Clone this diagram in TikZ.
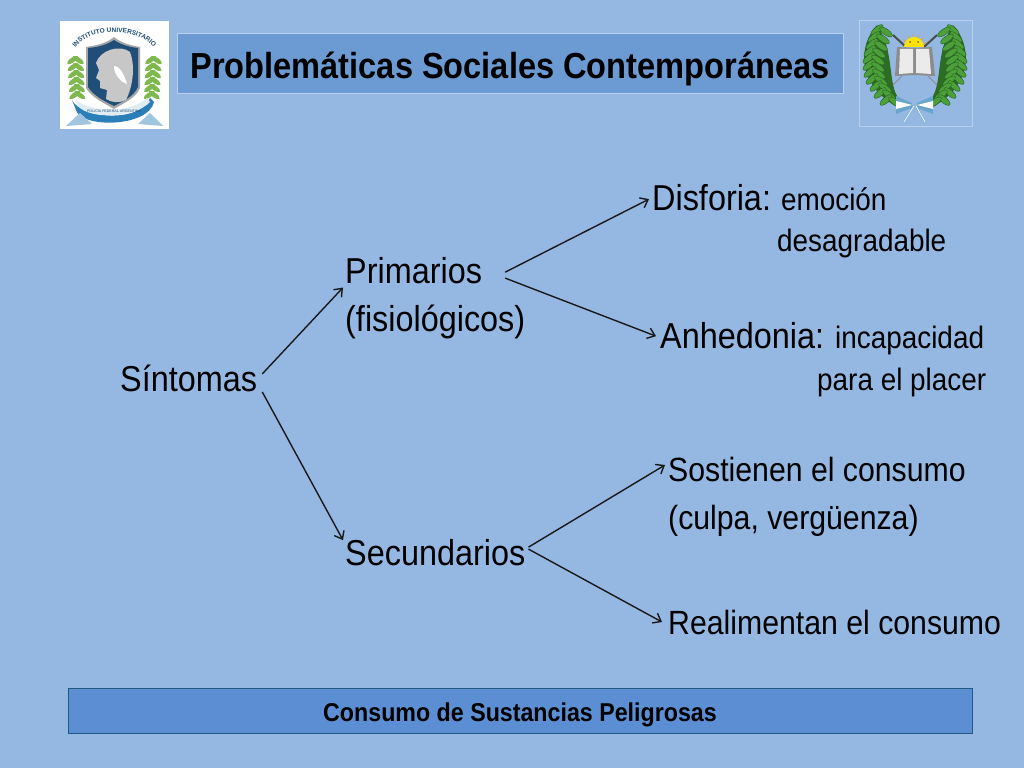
\documentclass[tikz,border=0pt]{standalone}
\usepackage{fontspec}
\setmainfont{Liberation Sans}
\newfontfamily\narrowfont[FakeStretch=0.9]{Liberation Sans}
\usetikzlibrary{arrows.meta,decorations.text}
\definecolor{fondo}{HTML}{95B8E3}
\definecolor{cajaazul}{HTML}{6C9AD2}
\definecolor{pieazul}{HTML}{5B8ED3}
\definecolor{bordeclaro}{HTML}{B9D0EE}
\definecolor{hoja}{HTML}{3F9A35}
\definecolor{hojaclara}{HTML}{8CC152}
\definecolor{escudo}{HTML}{1F4E79}
\definecolor{cinta}{HTML}{2A7FB8}
\tikzset{
  grande/.style={anchor=base west,inner sep=0pt,font=\narrowfont\fontsize{36}{40}\selectfont},
  medio/.style={anchor=base west,inner sep=0pt,font=\narrowfont\fontsize{33.6}{38}\selectfont},
  chico/.style={anchor=base west,inner sep=0pt,font=\narrowfont\fontsize{31}{36}\selectfont},
  rama/.style={draw=black!90,line width=1.4pt,-{Straight Barb[length=7pt,width=11pt,line width=1.4pt]}},
  hojita/.style={fill=hoja!85!hojaclara,draw=hoja!60!black,line width=.4pt}
}
\begin{document}
\begin{tikzpicture}[x=1pt,y=-1pt]
  \useasboundingbox (0,0) rectangle (1024,768);
  \fill[fondo] (0,0) rectangle (1024,768);

  % title and footer
  \node[draw=bordeclaro,fill=cajaazul,line width=1pt,minimum width=666pt,minimum height=59pt,inner sep=0pt] (titulo) at (510,63.5) {};
  \node[inner sep=0pt,font=\narrowfont\fontsize{36.2}{40}\selectfont] at (510,69) {\textbf{Problemáticas Sociales Contemporáneas}};
  \node[draw=cinta!70!black,fill=pieazul,line width=.6pt,minimum width=904pt,minimum height=45pt,inner sep=0pt] (pie) at (520,710.5) {};
  \node[inner sep=0pt,font=\narrowfont\fontsize{25.8}{30}\selectfont] at (520,715) {\textbf{Consumo de Sustancias Peligrosas}};

  % left emblem
  \fill[white] (60,21) rectangle (169,129);
  \foreach \y in {60,67,...,95}{
    \fill[hojaclara!80!hoja] (69+\y*0.06,\y) ellipse [x radius=6.5pt,y radius=2.4pt,rotate=35];
    \fill[hojaclara!80!hoja] (76+\y*0.04,\y) ellipse [x radius=6.5pt,y radius=2.4pt,rotate=-35];
    \fill[hojaclara!80!hoja] (160-\y*0.06,\y) ellipse [x radius=6.5pt,y radius=2.4pt,rotate=-35];
    \fill[hojaclara!80!hoja] (153-\y*0.04,\y) ellipse [x radius=6.5pt,y radius=2.4pt,rotate=35];
  }
  \fill[black!35] (86,47) .. controls (100,45) and (108,42) .. (114,37) .. controls (120,42) and (128,45) .. (140,47) -- (140,88) .. controls (136,98) and (124,103) .. (114,109) .. controls (104,103) and (92,98) .. (86,88) -- cycle;
  \fill[escudo] (88,48) .. controls (100,47) and (108,44) .. (114,40) .. controls (120,44) and (128,47) .. (138,48) -- (138,87) .. controls (134,96) and (124,101) .. (114,106) .. controls (104,101) and (94,96) .. (88,87) -- cycle;
  \fill[black!22] (96,63) .. controls (100,50) and (120,44) .. (130,52) .. controls (136,68) and (132,88) .. (126,100) .. controls (120,103) and (112,103) .. (106,99) -- (107,90) -- (100,88) -- (100,81) -- (96,78) -- (99,70) -- cycle;
  \fill[white] (114,66) .. controls (120,66) and (125,76) .. (127,84) .. controls (120,82) and (114,74) .. (114,66) -- cycle;
  \fill[cinta] (72,100) .. controls (80,118) and (140,124) .. (150,98) -- (154,102) .. controls (148,128) and (80,128) .. (76,110) -- cycle;
  \fill[white!85!cinta] (76,100) .. controls (90,112) and (130,114) .. (147,98) -- (150,102) .. controls (135,118) and (90,120) .. (78,106) -- cycle;
  \fill[cinta!45] (66,126) -- (80,113) -- (92,124) -- cycle;
  \fill[cinta!45] (163,126) -- (150,113) -- (138,124) -- cycle;
  \path[decorate,decoration={text along path,text align=center,
    text={|\fontsize{6.5}{8}\bfseries\color{escudo}|INSTITUTO UNIVERSITARIO}}]
    (71,56) .. controls (80,24) and (148,24) .. (158,56);
  \node[inner sep=0pt,font=\fontsize{3.6}{4}\selectfont,text=escudo] (policia) at (114,111) {POLICIA FEDERAL ARGENTINA};

  % right emblem
  \draw[bordeclaro,line width=1pt] (859,21) rectangle (972,126);
  \fill[hoja!70!black] (877,25) .. controls (858,45) and (856,85) .. (899,108) -- (897,96) .. controls (888,80) and (894,50) .. (877,25) -- cycle;
  \fill[hoja!70!black] (953,25) .. controls (972,45) and (974,85) .. (931,108) -- (933,96) .. controls (942,80) and (936,50) .. (953,25) -- cycle;
  \foreach \y/\d in {30/6,37/3,44/1,51/-1,58/-2,65/-2,72/-1,79/1,86/5,93/9,100/15}{
    \draw[hojita] (871+\d,\y) ellipse [x radius=7.5pt,y radius=3pt,rotate=40];
    \draw[hojita] (880+\d,\y+2) ellipse [x radius=7.5pt,y radius=3pt,rotate=-35];
    \draw[hojita] (959-\d,\y) ellipse [x radius=7.5pt,y radius=3pt,rotate=-40];
    \draw[hojita] (950-\d,\y+2) ellipse [x radius=7.5pt,y radius=3pt,rotate=35];
  }
  \draw[black!70,line width=2pt] (893,35) -- (906,47) (937,35) -- (924,47);
  \draw[black!45,line width=1pt] (893,85) -- (902,76) (937,85) -- (928,76);
  \foreach \a in {20,45,...,160}{
    \draw[orange!80!yellow,line width=.5pt] (914,47) -- ++(\a:13pt);
  }
  \fill[yellow!85!orange] (904,47) arc [start angle=180,end angle=0,radius=10pt] -- cycle;
  \fill[black!60] (910,42) circle (1pt) (918,42) circle (1pt);
  \fill[black!45] (897,47) -- (914,48) -- (932,47) -- (935,76) -- (914,75) -- (895,76) -- cycle;
  \fill[white!92!black] (900,49) -- (913,49) -- (913,73) -- (899,74) -- cycle;
  \fill[white!92!black] (916,49) -- (929,49) -- (931,74) -- (916,73) -- cycle;
  \fill[cinta!70] (896,96) -- (912,103) -- (912,108) -- (896,114) -- cycle;
  \fill[cinta!70] (933,96) -- (917,103) -- (917,108) -- (933,114) -- cycle;
  \fill[white] (896,101) -- (912,105) -- (896,109) -- cycle;
  \fill[white] (933,101) -- (917,105) -- (933,109) -- cycle;
  \draw[cinta!60,line width=2pt] (914,106) -- (904,122) (916,106) -- (925,122);
  \draw[white,line width=.7pt] (914,106) -- (904,122) (916,106) -- (925,122);

  % text nodes
  \node[grande] (sintomas) at (120,391) {Síntomas};
  \node[grande] (primarios) at (345,283) {Primarios};
  \node[grande] (fisio) at (345,331) {(fisiológicos)};
  \node[grande] (secundarios) at (345,565) {Secundarios};
  \node[grande] (disforia) at (652,210) {Disforia:{\fontsize{31}{36}\selectfont\hspace{10pt}emoción}};
  \node[chico] (desagradable) at (777,251) {desagradable};
  \node[grande] (anhedonia) at (660,348) {Anhedonia:{\fontsize{31}{36}\selectfont\hspace{11pt}incapacidad}};
  \node[chico] (placer) at (817,390) {para el placer};
  \node[medio] (sostienen) at (668,481) {Sostienen el consumo};
  \node[medio] (culpa) at (668,529) {(culpa, vergüenza)};
  \node[medio] (realimentan) at (668,634) {Realimentan el consumo};

  % arrows
  \draw[rama] ([shift={(5,-4)}]sintomas.east) -- ([shift={(-2,4)}]primarios.south west);
  \draw[rama] ([shift={(5,14)}]sintomas.east) -- ([shift={(-2,-12)}]secundarios.west);
  \draw[rama] ([shift={(23,2)}]primarios.east) -- ([shift={(-3,2)}]disforia.west);
  \draw[rama] ([shift={(23,8)}]primarios.east) -- ([shift={(-4,-2)}]anhedonia.west);
  \draw[rama] ([shift={(3,-5)}]secundarios.east) -- ([shift={(-3,-4)}]sostienen.west);
  \draw[rama] ([shift={(3,-3)}]secundarios.east) -- ([shift={(-6,0)}]realimentan.west);
\end{tikzpicture}
\end{document}
